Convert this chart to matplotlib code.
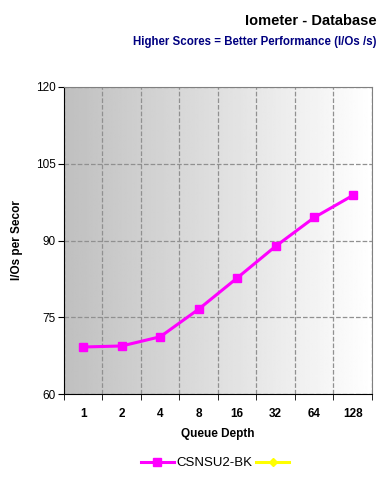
import numpy as np
import matplotlib.pyplot as plt

plt.rcParams['font.family'] = ['Liberation Sans', 'DejaVu Sans']

# Data
QueueDepth = ['1', '2', '4', '8', '16', '32', '64', '128']
CSNSU2_BK = [69.2, 69.4, 71.2, 76.6, 82.7, 88.9, 94.5, 98.8]
YTicks = [60, 75, 90, 105, 120]

fig = plt.figure(figsize=(3.86, 4.80), dpi=100)
ax = fig.add_axes([0.1658, 0.179, 0.7979, 0.6398])

n = len(QueueDepth)
xpos = np.arange(n) + 0.5

# gradient background, gray on the left fading to white
grad = np.linspace(0, 1, 256).reshape(1, -1)
ax.imshow(grad, extent=[0, n, 60, 120], aspect='auto', cmap='gray',
          vmin=-3.0, vmax=1.0, zorder=0, interpolation='bilinear')

ax.plot(xpos, CSNSU2_BK, color='#ff00ff', linewidth=2.2, marker='s',
        markersize=6, label='CSNSU2-BK', zorder=3)
ax.plot([], [], color='#ffff00', linewidth=2.2, marker='D', markersize=4,
        label=' ')

ax.set_xlim(0, n)
ax.set_ylim(60, 120)
ax.set_yticks(YTicks)
ax.set_yticklabels([str(v) for v in YTicks], fontsize=8.5)
ax.set_xticks(xpos)
ax.set_xticklabels(QueueDepth, fontsize=8.5, fontweight='bold')
ax.tick_params(axis='x', length=0, pad=10)
ax.set_xticks(np.arange(0, n + 1), minor=True)
ax.tick_params(axis='x', which='minor', length=4, direction='out')
ax.tick_params(axis='y', length=4, direction='out', pad=2)

ax.grid(True, axis='y', linestyle='--', color='#909090', linewidth=0.9, zorder=1)
ax.grid(True, axis='x', which='minor', linestyle='--', color='#909090', linewidth=0.9, zorder=1)

ax.spines['left'].set_color('black')
ax.spines['bottom'].set_color('black')
ax.spines['top'].set_color('#808080')
ax.spines['right'].set_color('#808080')

ax.set_xlabel('Queue Depth', fontsize=8.5, fontweight='bold', labelpad=6)
ax.set_ylabel('I/Os per Secor', fontsize=8.5, fontweight='bold', labelpad=9)

fig.text(0.975, 0.957, 'Iometer - Database', ha='right', va='center',
         fontsize=10.5, fontweight='bold')
fig.text(0.975, 0.912, 'Higher Scores = Better Performance (I/Os /s)', ha='right',
         va='center', fontsize=8.3, fontweight='bold', color='#000080')

ax.legend(loc='center', bbox_to_anchor=(0.5, (480 - 463 - 86) / 307.0),
          ncol=2, frameon=False, fontsize=9.5, handlelength=2.5,
          columnspacing=0.3, handletextpad=0.2, bbox_transform=ax.transAxes)

plt.savefig('out.png', dpi=100)
